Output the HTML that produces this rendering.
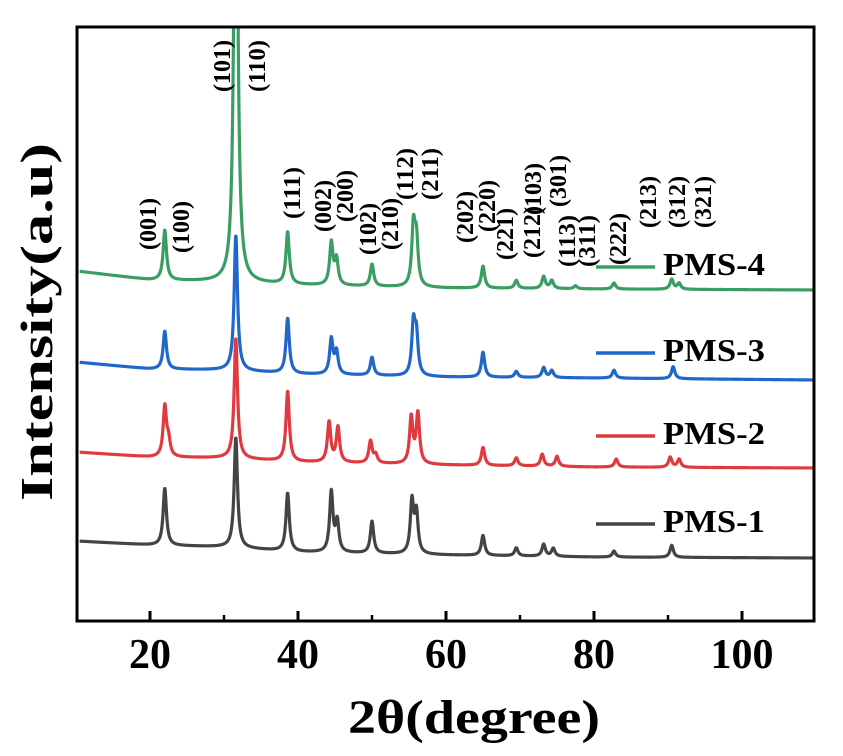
<!DOCTYPE html>
<html><head><meta charset="utf-8"><style>
html,body{margin:0;padding:0;background:#fff;}
svg{display:block;font-family:"Liberation Serif",serif;font-weight:bold;}
</style></head><body>
<svg id="chart" width="843" height="756" viewBox="0 0 843 756">
<defs><clipPath id="plotclip"><rect x="78" y="28" width="736" height="592"/></clipPath></defs>
<g id="series" clip-path="url(#plotclip)"></g>
<rect x="77" y="27" width="737" height="594" fill="none" stroke="#000" stroke-width="3"/>
<g id="ticks"></g>
<g id="annots"></g>
<g id="legend"></g>
<text x="474" y="733" text-anchor="middle" font-size="48" textLength="252" lengthAdjust="spacingAndGlyphs">2θ(degree)</text>
<text transform="translate(52,322) rotate(-90)" text-anchor="middle" font-size="46" textLength="358" lengthAdjust="spacingAndGlyphs">Intensity(a.u)</text>
</svg>
<script>
const seriesNames = ["PMS-1","PMS-2","PMS-3","PMS-4"];
const seriesColors = ["#444444","#e03a3e","#1f67c9","#3a9e64"];
const baseAngles = [10,20,30,40,60,80,110];
const baseLevels1 = [79,75,73,68,65,63,62];
const baseLevels2 = [168,163,162,158,155,153,152];
const baseLevels3 = [258,251,250,246,243,242,240];
const baseLevels4 = [349,340,338,335,332,331,330];
const peakPos1 = [22.0,31.6,38.6,44.5,45.3,50.0,55.4,56.0,65.0,69.5,73.2,74.5,82.7,90.5];
const peakHt1 = [57,110,58,60,30,32,52,40,20,8,12,8,6,12];
const peakPos2 = [22.0,22.5,31.6,38.6,44.2,45.4,49.8,50.5,55.3,56.2,65.0,69.5,73.0,75.0,83.0,90.3,91.5];
const peakHt2 = [50,15,120,70,40,35,22,8,46,50,18,8,12,10,8,10,8];
const peakPos3 = [22.0,31.6,38.6,44.5,45.2,50.0,55.6,56.0,65.0,69.5,73.2,74.3,82.7,90.7];
const peakHt3 = [38,135,55,35,22,18,50,38,25,6,10,7,8,12];
const peakPos4 = [22.0,31.6,38.6,44.5,45.2,50.0,55.6,56.0,65.0,69.5,73.2,74.3,77.5,82.7,90.5,91.5];
const peakHt4 = [50,600,52,42,25,22,58,45,22,8,12,8,3,6,10,6];
const xTicks = [20,40,60,80,100];
const xMinor = [30,50,70,90];
const annLabels = ["(001)","(100)","(101)","(110)","(111)","(002)","(200)","(102)","(210)","(112)","(211)","(202)","(220)","(221)","(212)","(103)","(301)","(113)","(311)","(222)","(213)","(312)","(321)"];
const annX = [148,181,222,257,292,323,345,368,390,405,430,465,487,505,532,533,558,567,587,618,648,677,703];
const annY = [250,253,92,92,219,232,222,255,250,200,200,243,232,260,258,215,207,267,267,265,228,228,228];

const NS="http://www.w3.org/2000/svg";
function xs(t){return 76+(t-10)*7.4;}
function ys(i){return 620-i;}
function interp(ax,av,t){for(let k=0;k<ax.length-1;k++){if(t<=ax[k+1]){const f=(t-ax[k])/(ax[k+1]-ax[k]);return av[k]+f*(av[k+1]-av[k]);}}return av[av.length-1];}
function intensity(t,bl,pp,ph){let v=interp(baseAngles,bl,t);for(let k=0;k<pp.length;k++){const w=0.27;const d=(t-pp[k])/w;v+=ph[k]/(1+d*d);}return v;}
const bases=[baseLevels1,baseLevels2,baseLevels3,baseLevels4];
const pps=[peakPos1,peakPos2,peakPos3,peakPos4];
const phs=[peakHt1,peakHt2,peakHt3,peakHt4];
const sg=document.getElementById('series');
for(let s=0;s<4;s++){
  let d="";
  for(let t=10.5;t<=110;t+=0.04){const v=intensity(t,bases[s],pps[s],phs[s]);d+=(d?"L":"M")+xs(t).toFixed(2)+","+ys(v).toFixed(2);}
  const p=document.createElementNS(NS,'path');
  p.setAttribute('d',d);p.setAttribute('fill','none');p.setAttribute('stroke',seriesColors[s]);p.setAttribute('stroke-width','3.2');p.setAttribute('stroke-linejoin','round');
  
  
  sg.appendChild(p);
}
const tg=document.getElementById('ticks');
xTicks.forEach(v=>{
  const l=document.createElementNS(NS,'line');
  l.setAttribute('x1',xs(v));l.setAttribute('x2',xs(v));l.setAttribute('y1',620);l.setAttribute('y2',611);l.setAttribute('stroke','#000');l.setAttribute('stroke-width','3');
  
  
  tg.appendChild(l);
  const tx=document.createElementNS(NS,'text');
  tx.setAttribute('x',xs(v));tx.setAttribute('y',668);tx.setAttribute('text-anchor','middle');tx.setAttribute('font-size','42');
  tx.setAttribute('textLength',String(v).length*21);tx.setAttribute('lengthAdjust','spacingAndGlyphs');
  tx.textContent=v;
  
  
  tg.appendChild(tx);
});
xMinor.forEach(v=>{
  const l=document.createElementNS(NS,'line');
  l.setAttribute('x1',xs(v));l.setAttribute('x2',xs(v));l.setAttribute('y1',620);l.setAttribute('y2',615);l.setAttribute('stroke','#000');l.setAttribute('stroke-width','2.5');
  
  
  tg.appendChild(l);
});
const ag=document.getElementById('annots');
annLabels.forEach((lab,k)=>{
  const tx=document.createElementNS(NS,'text');
  tx.setAttribute('transform','translate('+(annX[k]+8)+','+annY[k]+') rotate(-90)');
  tx.setAttribute('font-size','24');tx.setAttribute('textLength','52');tx.setAttribute('lengthAdjust','spacingAndGlyphs');
  tx.textContent=lab;
  
  
  ag.appendChild(tx);
});
const lg=document.getElementById('legend');
const legY=[524,436,353,267];
for(let s=0;s<4;s++){
  const l=document.createElementNS(NS,'line');
  l.setAttribute('x1',596);l.setAttribute('x2',655);l.setAttribute('y1',legY[s]);l.setAttribute('y2',legY[s]);l.setAttribute('stroke',seriesColors[s]);l.setAttribute('stroke-width','3.5');
  
  
  lg.appendChild(l);
  const tx=document.createElementNS(NS,'text');
  tx.setAttribute('x',663);tx.setAttribute('y',legY[s]+8);tx.setAttribute('font-size','32');
  tx.setAttribute('textLength','102');tx.setAttribute('lengthAdjust','spacingAndGlyphs');
  tx.textContent=seriesNames[s];
  
  
  lg.appendChild(tx);
}
</script>
</body></html>
